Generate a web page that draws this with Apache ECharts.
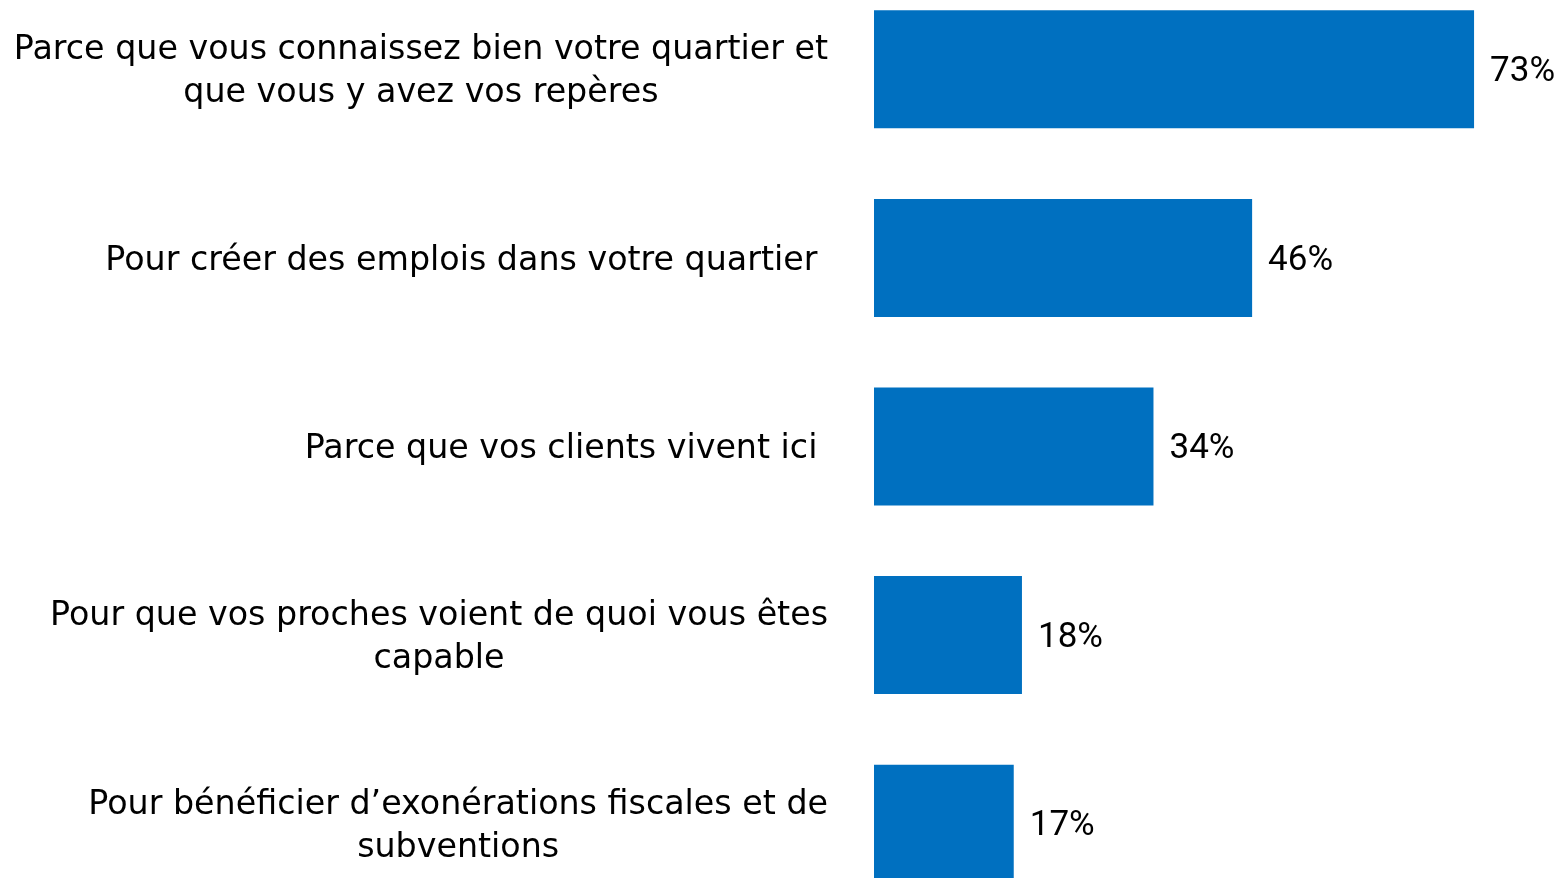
<!DOCTYPE html>
<html>
<head>
<meta charset="utf-8">
<script src="https://cdn.jsdelivr.net/npm/echarts@6/dist/echarts.min.js"></script>
<style>
html, body { margin: 0; padding: 0; background: #fff; }
#chart { width: 1557px; height: 878px; }
</style>
</head>
<body>
<div id="chart"></div>
<script>
var categories = [
    'Parce que vous connaissez bien votre quartier et\nque vous y avez vos repères',
    'Pour créer des emplois dans votre quartier ',
    'Parce que vos clients vivent ici ',
    'Pour que vos proches voient de quoi vous êtes\ncapable',
    'Pour bénéficier d\u2019exonérations fiscales et de\nsubventions'
];
var values = [73, 46, 34, 18, 17];

var myChart = echarts.init(document.getElementById('chart'));

var option = {
    animation: false,
    grid: {
        left: 874,
        width: 822,
        top: -25,
        height: 943,
        containLabel: false,
        outerBoundsMode: 'none'
    },
    xAxis: {
        type: 'value',
        min: 0,
        max: 100,
        show: false
    },
    yAxis: {
        type: 'category',
        inverse: true,
        data: categories,
        axisLine: { show: false },
        axisTick: { show: false },
        axisLabel: {
            margin: 46,
            padding: [6, 0, 0, 0],
            formatter: function (v) {
                return v.split('\n').map(function (l) { return '{c|' + l + '}'; }).join('\n');
            },
            rich: {
                c: {
                    align: 'center',
                    fontFamily: 'DejaVu Sans',
                    fontSize: 33.3,
                    lineHeight: 43,
                    color: '#000'
                }
            }
        }
    },
    series: [{
        type: 'bar',
        data: values,
        barWidth: 118,
        itemStyle: { color: '#0070C0' },
        label: {
            show: true,
            position: 'right',
            distance: 16,
            offset: [0, 3],
            formatter: '{c}%',
            fontFamily: 'Roboto',
            fontSize: 35,
            color: '#000'
        }
    }]
};
myChart.setOption(option);
</script>
</body>
</html>
